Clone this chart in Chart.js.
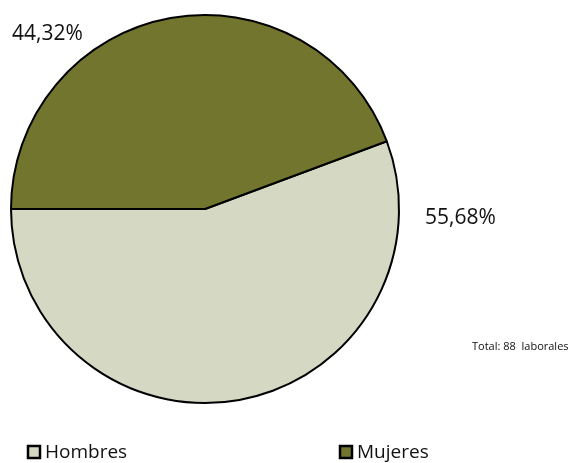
<!DOCTYPE html>
<html><head><meta charset="utf-8">
<script src="https://cdn.jsdelivr.net/npm/chart.js@4"></script>
<style>html,body{margin:0;padding:0;background:#fff}#wrap{width:573px;height:463px;position:relative}</style>
</head><body><div id="wrap"><canvas id="c" width="573" height="463"></canvas></div>
<script>
const categories = ["Hombres", "Mujeres"];
const values = [55.68, 44.32];
const valueLabels = ["55,68%", "44,32%"];
const colors = ["#d5d8c2", "#72752d"];
const totalNote = "Total: 88  laborales";
const FONT = "'Open Sans', 'DejaVu Sans', sans-serif";

const overlay = {
  id: 'overlay',
  afterDraw(chart) {
    const ctx = chart.ctx;
    ctx.save();
    ctx.fillStyle = '#111';
    ctx.textBaseline = 'middle';
    ctx.font = '21px ' + FONT;
    ctx.textAlign = 'left';
    ctx.fillText(valueLabels[1], 12, 34);
    ctx.fillText(valueLabels[0], 425, 218);
    ctx.font = '11px ' + FONT;
    ctx.fillText(totalNote, 472, 347);
    // legend
    const lx = [28, 340];
    ctx.font = '19px ' + FONT;
    categories.forEach((c, i) => {
      ctx.fillStyle = colors[i];
      ctx.fillRect(lx[i], 446, 12, 12);
      ctx.strokeStyle = '#000';
      ctx.lineWidth = 2.5;
      ctx.strokeRect(lx[i], 446, 12, 12);
      ctx.fillStyle = '#111';
      ctx.fillText(c, lx[i] + 17, 453);
    });
    ctx.restore();
  }
};

new Chart(document.getElementById('c'), {
  type: 'pie',
  data: {
    labels: categories,
    datasets: [{
      data: values,
      backgroundColor: colors,
      borderColor: '#000',
      borderWidth: 2,
      borderAlign: 'center'
    }]
  },
  options: {
    responsive: false,
    animation: false,
    rotation: 270 - values[0] * 3.6,
    layout: { padding: { left: 10, top: 14, right: 173, bottom: 59 } },
    plugins: { legend: { display: false }, tooltip: { enabled: false } }
  },
  plugins: [overlay]
});
</script></body></html>
